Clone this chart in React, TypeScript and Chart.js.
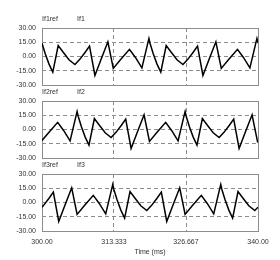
import React, { useEffect, useRef } from 'react';
import { Chart, registerables } from 'chart.js';

Chart.register(...registerables);

// ---- data ----
const xTickValues = [300, 313.333, 326.667, 340];
const xTickLabels = ['300.00', '313.333', '326.667', '340.00'];
const yTickValues = [-30, -15, 0, 15, 30];
const refNames = ['If1ref', 'If2ref', 'If3ref'];
const seriesNames = ['If1', 'If2', 'If3'];
const xTitle = 'Time (ms)';

const if1Time = [
  300, 300.6, 301.3, 302.0, 303.0, 304.0, 305.0, 306.1, 307.0, 308.0, 308.8, 309.8, 311.0, 312.2, 313.2, 314.6, 316.2, 317.3, 318.5, 319.8,
  320, 320.6, 321.3, 322.0, 323.0, 324.0, 325.0, 326.1, 327.0, 328.0, 328.8, 329.8, 331.0, 332.2, 333.2, 334.6, 336.2, 337.3, 338.5, 339.8,
  340,
];
const if1Values = [
  14, 3, -8, -16.5, 11.5, 4, -3.5, -8.5, -3, 4.5, 11, -20, -2, 15.5, -12.5, -3, 7.5, -1, -12, 19,
  14, 3, -8, -16.5, 11.5, 4, -3.5, -8.5, -3, 4.5, 11, -20, -2, 15.5, -12.5, -3, 7.5, -1, -12, 19,
  14,
];

const if2Time = [
  300, 301.3, 302.9, 304.0, 305.2, 306.5, 306.7, 307.3, 308.0, 308.7, 309.7, 310.7, 311.7, 312.8, 313.7, 314.7, 315.5, 316.5, 317.7, 318.9, 319.9,
  321.3, 322.9, 324.0, 325.2, 326.5, 326.7, 327.3, 328.0, 328.7, 329.7, 330.7, 331.7, 332.8, 333.7, 334.7, 335.5, 336.5, 337.7, 338.9, 339.9,
  340,
];
const if2Values = [
  -11.6, -3, 7.5, -1, -12, 19, 14, 3, -8, -16.5, 11.5, 4, -3.5, -8.5, -3, 4.5, 11, -20, -2, 15.5, -12.5,
  -3, 7.5, -1, -12, 19, 14, 3, -8, -16.5, 11.5, 4, -3.5, -8.5, -3, 4.5, 11, -20, -2, 15.5, -12.5,
  -11.6,
];

const if3Time = [
  300, 300.3, 301.3, 302.1, 303.1, 304.3, 305.5, 306.5, 307.9, 309.5, 310.6, 311.8, 313.1, 313.3, 313.9, 314.6, 315.3, 316.3, 317.3, 318.3, 319.4,
  320.3, 321.3, 322.1, 323.1, 324.3, 325.5, 326.5, 327.9, 329.5, 330.6, 331.8, 333.1, 333.3, 333.9, 334.6, 335.3, 336.3, 337.3, 338.3, 339.4,
  340,
];
const if3Values = [
  -5, -3, 4.5, 11, -20, -2, 15.5, -12.5, -3, 7.5, -1, -12, 19, 14, 3, -8, -16.5, 11.5, 4, -3.5, -8.5,
  -3, 4.5, 11, -20, -2, 15.5, -12.5, -3, 7.5, -1, -12, 19, 14, 3, -8, -16.5, 11.5, 4, -3.5, -8.5,
  -5,
];

const panelTimes = [if1Time, if2Time, if3Time];
const panelValues = [if1Values, if2Values, if3Values];

// ---- styling ----
const FONT = "'Liberation Sans', Arial, sans-serif";
const GRID = '#8c8c8c';
const TEXT = '#333';
const W = 280;
const H = 260;

const framePlugin = {
  id: 'frame',
  beforeDatasetsDraw(chart: any) {
    const { ctx, chartArea } = chart;
    ctx.save();
    ctx.strokeStyle = GRID;
    ctx.lineWidth = 1;
    ctx.setLineDash([]);
    ctx.strokeRect(
      Math.round(chartArea.left) + 0.5,
      Math.round(chartArea.top) + 0.5,
      Math.round(chartArea.right - chartArea.left),
      Math.round(chartArea.bottom - chartArea.top)
    );
    ctx.restore();
  },
};

const labelPlugin = {
  id: 'panelLabels',
  afterDraw(chart: any, _args: any, opts: any) {
    const { ctx, chartArea } = chart;
    ctx.save();
    ctx.fillStyle = TEXT;
    ctx.font = `7px ${FONT}`;
    ctx.textBaseline = 'middle';
    ctx.textAlign = 'left';
    const y = chartArea.top - 8.5;
    ctx.fillText(opts.ref, chartArea.left, y);
    ctx.fillText(opts.name, chartArea.left + 35, y);
    ctx.restore();
  },
};

function makeConfig(i: number): any {
  const pads = [
    { top: 28, bottom: 175 },
    { top: 101, bottom: 102 },
    { top: 174, bottom: 0 },
  ][i];
  const showX = i === 2;
  const data = panelTimes[i].map((t, k) => ({ x: t, y: panelValues[i][k] }));
  return {
    type: 'line',
    data: {
      datasets: [
        {
          label: seriesNames[i],
          data,
          borderColor: '#000',
          borderWidth: 1.5,
          pointRadius: 0,
          tension: 0,
          fill: false,
        },
      ],
    },
    options: {
      animation: false,
      responsive: false,
      events: [],
      layout: { padding: { left: 0, right: 22, top: pads.top, bottom: pads.bottom } },
      plugins: {
        legend: { display: false },
        tooltip: { enabled: false },
        panelLabels: { ref: refNames[i], name: seriesNames[i] },
      },
      scales: {
        x: {
          type: 'linear',
          min: 300,
          max: 340,
          afterBuildTicks: (s: any) => {
            s.ticks = xTickValues.map((v) => ({ value: v }));
          },
          afterFit: (s: any) => {
            s.height = showX ? 29 : 0;
          },
          grid: {
            drawTicks: false,
            color: (c: any) =>
              c.tick && (c.tick.value === 300 || c.tick.value === 340) ? 'rgba(0,0,0,0)' : GRID,
            lineWidth: 1,
          },
          border: { display: false, dash: [4, 3] },
          ticks: {
            display: showX,
            padding: 7,
            maxRotation: 0,
            autoSkip: false,
            color: TEXT,
            font: { family: FONT, size: 7 },
            callback: (_v: any, idx: number) => xTickLabels[idx],
          },
          title: {
            display: showX,
            text: xTitle,
            color: TEXT,
            font: { family: FONT, size: 7 },
            padding: { top: 0, bottom: 4 },
          },
        },
        y: {
          min: -30,
          max: 30,
          afterBuildTicks: (s: any) => {
            s.ticks = yTickValues.map((v) => ({ value: v }));
          },
          afterFit: (s: any) => {
            s.width = 42;
          },
          grid: {
            drawTicks: false,
            color: (c: any) =>
              c.tick && (c.tick.value === 30 || c.tick.value === -30) ? 'rgba(0,0,0,0)' : GRID,
            lineWidth: 1,
          },
          border: { display: false, dash: [4, 3] },
          ticks: {
            padding: 6,
            color: TEXT,
            font: { family: FONT, size: 7 },
            callback: (v: any) => Number(v).toFixed(2),
          },
        },
      },
    },
    plugins: [framePlugin, labelPlugin],
  };
}

function Panel({ index }: { index: number }) {
  const ref = useRef<HTMLCanvasElement | null>(null);
  useEffect(() => {
    if (!ref.current) return;
    const chart = new Chart(ref.current, makeConfig(index));
    return () => chart.destroy();
  }, [index]);
  return (
    <canvas
      ref={ref}
      width={W}
      height={H}
      style={{ position: 'absolute', left: 0, top: 0, width: W, height: H }}
    />
  );
}

export default function App() {
  return (
    <div
      style={{
        position: 'fixed',
        left: 0,
        top: 0,
        width: W,
        height: H,
        background: '#fff',
        overflow: 'hidden',
      }}
    >
      <Panel index={0} />
      <Panel index={1} />
      <Panel index={2} />
    </div>
  );
}
